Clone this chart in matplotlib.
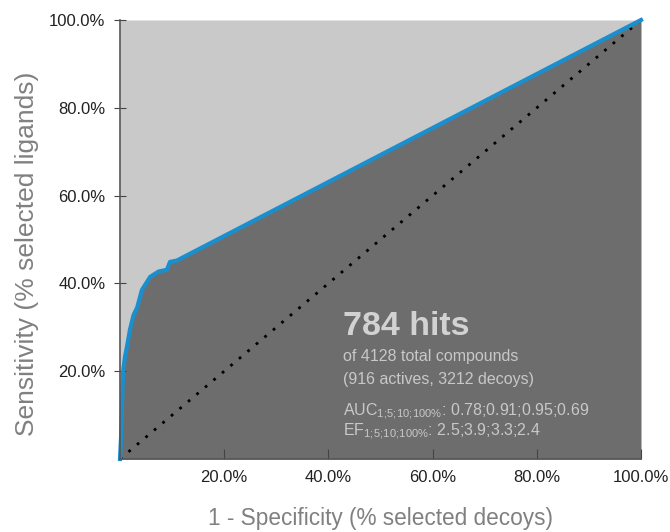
import numpy as np
from matplotlib import pyplot as plt

plt.rcParams['font.family'] = ['Liberation Sans', 'DejaVu Sans']
plt.rcParams['mathtext.fontset'] = 'custom'
plt.rcParams['mathtext.rm'] = 'Liberation Sans'
plt.rcParams['mathtext.it'] = 'Liberation Sans'

# ROC curve (% selected decoys, % selected ligands)
fpr = [0.0, 0.2, 0.33, 0.5, 0.63, 0.96, 1.4, 1.9, 2.6, 3.3, 4.2, 5.0, 5.8, 7.4, 9.0, 9.6, 10.9, 100.0]
tpr = [0.0, 5.0, 9.6, 17.0, 20.3, 23.3, 26.0, 29.4, 32.8, 34.5, 38.5, 40.0, 41.5, 42.7, 43.1, 44.9, 45.2, 100.0]

ticks = [20, 40, 60, 80, 100]
tick_labels = ['20.0%', '40.0%', '60.0%', '80.0%', '100.0%']

hits_title = '784 hits'
info_lines = ['of 4128 total compounds', '(916 actives, 3212 decoys)']
auc_line = r'AUC$_{1;\!5;\!10;\!100\%}$: 0.78;0.91;0.95;0.69'
ef_line = r'EF$_{1;\!5;\!10;\!100\%}$: 2.5;3.9;3.3;2.4'

fig = plt.figure(figsize=(6.7, 5.32), dpi=100)
ax = fig.add_axes([120 / 670, 1 - 459 / 532, 521 / 670, 439 / 532])

ax.fill_between(fpr, tpr, 100, color='#c9c9c9', lw=0)
ax.fill_between(fpr, 0, tpr, color='#6d6d6d', lw=0)
ax.plot([0, 100], [0, 100], color='black', ls=(0, (1, 3)), lw=2)
ax.plot(fpr, tpr, color='#1a8fd0', lw=3, solid_joinstyle='round', clip_on=False)

ax.set_xlim(0, 100)
ax.set_ylim(0, 100)
ax.set_xticks(ticks)
ax.set_xticklabels(tick_labels)
ax.set_yticks(ticks)
ax.set_yticklabels(tick_labels)
ax.tick_params(axis='x', direction='in', length=7, color='#444444', labelsize=12,
               labelcolor='#222222', pad=8)
ax.tick_params(axis='y', direction='inout', length=9, color='#444444', labelsize=12,
               labelcolor='#222222', pad=6)
for s in ['top', 'right']:
    ax.spines[s].set_visible(False)
for s in ['left', 'bottom']:
    ax.spines[s].set_color('#555555')
    ax.spines[s].set_linewidth(1.2)

fig.text(380 / 670, 1 - 518 / 532, '1 - Specificity (% selected decoys)', fontsize=16.3,
         color='#808080', ha='center', va='center')
fig.text(27 / 670, 1 - 254 / 532, 'Sensitivity (% selected ligands)', fontsize=19,
         color='#808080', ha='center', va='center', rotation=90)

tx = 0.428
ax.text(tx, 0.282, hits_title, transform=ax.transAxes, fontsize=24.5, fontweight='bold',
        color='#d2d2d2', va='baseline')
ax.text(tx, 0.224, info_lines[0], transform=ax.transAxes, fontsize=11.5, color='#c8c8c8',
        va='baseline')
ax.text(tx, 0.171, info_lines[1], transform=ax.transAxes, fontsize=11.5, color='#c8c8c8',
        va='baseline')
ax.text(tx, 0.099, auc_line, transform=ax.transAxes, fontsize=11.5, color='#c8c8c8',
        va='baseline')
ax.text(tx, 0.052, ef_line, transform=ax.transAxes, fontsize=11.5, color='#c8c8c8',
        va='baseline')

fig.savefig('out.png', dpi=100)
